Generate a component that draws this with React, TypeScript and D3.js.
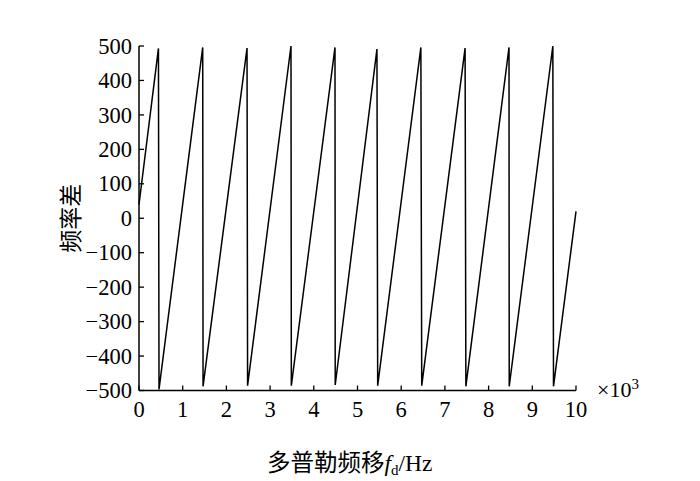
import React from "react";
import * as d3 from "d3";

const xTicks = [0, 1, 2, 3, 4, 5, 6, 7, 8, 9, 10];
const yTicks = [-500, -400, -300, -200, -100, 0, 100, 200, 300, 400, 500];

const startPoint = [0, 40];
const endPoint = [10000, 20];
const peakX = [445, 1458, 2472, 3478, 4485, 5445, 6450, 7462, 8467, 9470];
const peakY = [493, 496, 494, 500, 496, 491, 496, 494, 496, 500];
const troughX = [458, 1466, 2485, 3486, 4490, 5462, 6470, 7480, 8472, 9485];
const troughY = [-497, -488, -486, -486, -484, -486, -486, -488, -488, -488];

const W = 700;
const H = 481;
const M = { left: 139, right: 124, top: 46, bottom: 90.5 };
const FONT = "'Liberation Serif', 'Times New Roman', serif";
const CJK = "'Noto Sans CJK SC', 'Liberation Serif', serif";

export default function App() {
  const x = d3.scaleLinear().domain([0, 10000]).range([M.left, W - M.right]);
  const y = d3.scaleLinear().domain([-500, 500]).range([H - M.bottom, M.top]);

  const pts: [number, number][] = [[startPoint[0], startPoint[1]]];
  peakX.forEach((px, i) => {
    pts.push([px, peakY[i]]);
    pts.push([troughX[i], troughY[i]]);
  });
  pts.push([endPoint[0], endPoint[1]]);

  const line = d3
    .line<[number, number]>()
    .x((d) => x(d[0]))
    .y((d) => y(d[1]));

  const x0 = x(0);
  const y0 = y(-500);

  return (
    <div style={{ position: "absolute", left: 0, top: 0 }}>
      <svg width={W} height={H} style={{ display: "block", background: "#fff" }}>
        <path d={line(pts) || ""} fill="none" stroke="#000" strokeWidth={1.5} strokeLinejoin="miter" />
        {/* axes */}
        <line x1={x0} x2={x0} y1={y(500)} y2={y0} stroke="#000" strokeWidth={1.5} />
        <line x1={x0} x2={x(10000)} y1={y0} y2={y0} stroke="#000" strokeWidth={1.5} />
        {yTicks.map((t) => (
          <g key={"y" + t}>
            <line x1={x0} x2={x0 + 5} y1={y(t)} y2={y(t)} stroke="#000" strokeWidth={1.3} />
            <text
              x={x0 - 7}
              y={y(t)}
              dy="0.34em"
              textAnchor="end"
              fontFamily={FONT}
              fontSize={22.5}
              fill="#000"
            >
              {t < 0 ? "\u2212" + Math.abs(t) : String(t)}
            </text>
          </g>
        ))}
        {xTicks.map((t) => (
          <g key={"x" + t}>
            <line x1={x(t * 1000)} x2={x(t * 1000)} y1={y0} y2={y0 - 5} stroke="#000" strokeWidth={1.3} />
            <text
              x={x(t * 1000)}
              y={417}
              textAnchor="middle"
              fontFamily={FONT}
              fontSize={22.5}
              fill="#000"
            >
              {t}
            </text>
          </g>
        ))}
        <text x={597} y={397} fontFamily={FONT} fontSize={22} fill="#000">
          ×10
          <tspan dy={-8} fontSize={15}>
            3
          </tspan>
        </text>
        <text
          transform={`translate(79, ${(y(500) + y0) / 2}) rotate(-90)`}
          textAnchor="middle"
          fontFamily={CJK}
          fontSize={23}
          fill="#000"
        >
          频率差
        </text>
        <text x={267} y={471} textAnchor="start" fontSize={23.5} fill="#000">
          <tspan fontFamily={CJK}>多普勒频移</tspan>
          <tspan fontFamily={FONT} fontStyle="italic">f</tspan>
          <tspan fontFamily={FONT} fontSize={15} dy={4}>d</tspan>
          <tspan fontFamily={FONT} dy={-4}>/Hz</tspan>
        </text>
      </svg>
    </div>
  );
}
